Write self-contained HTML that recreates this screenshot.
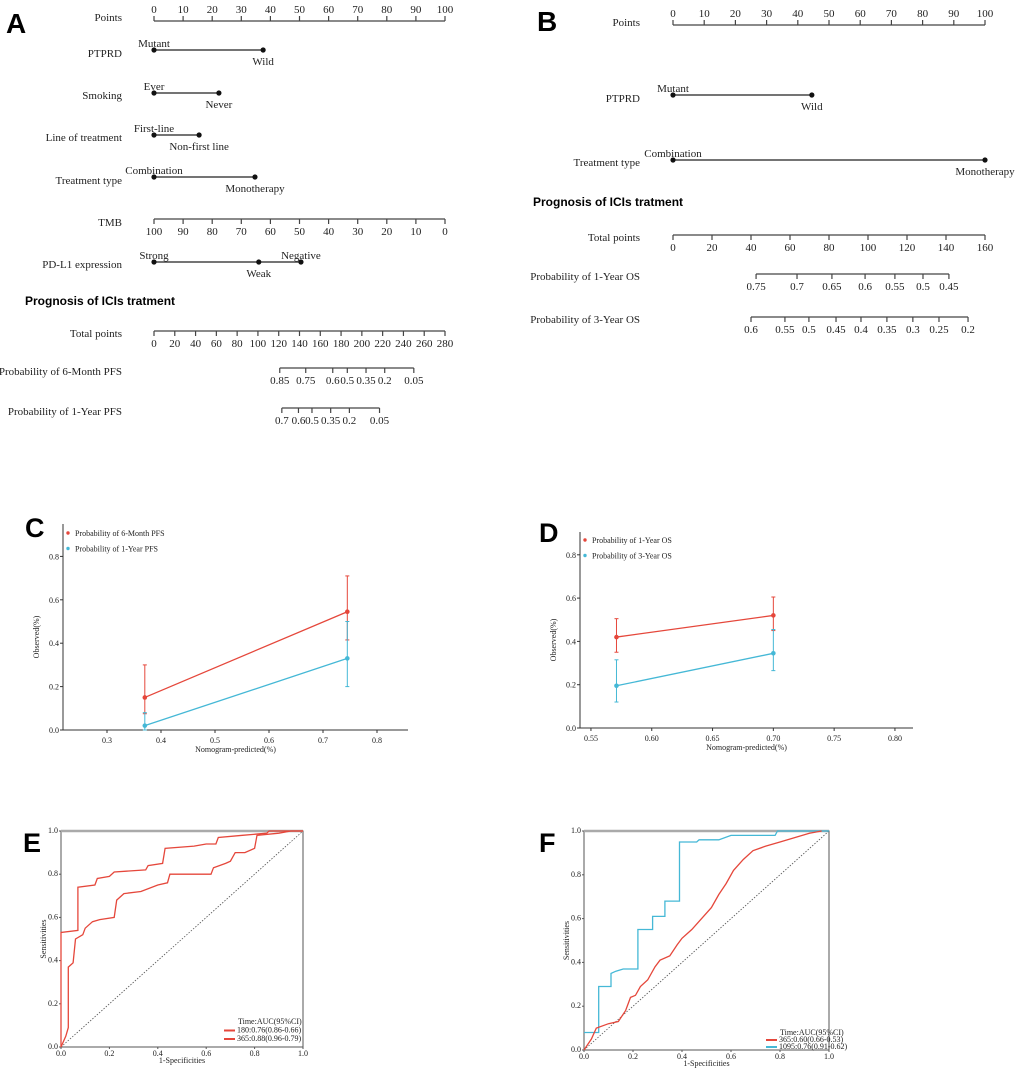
<!DOCTYPE html>
<html><head><meta charset="utf-8"><style>
html,body{margin:0;padding:0;background:#fff;}
svg{display:block;}
.t{font-family:"Liberation Serif",serif;font-size:11px;fill:#222;}
.s{font-family:"Liberation Serif",serif;font-size:8px;fill:#222;}
.b{font-family:"Liberation Sans",sans-serif;font-weight:bold;fill:#000;}
</style></head><body>
<svg id="fig" width="1020" height="1071" viewBox="0 0 1020 1071" xmlns="http://www.w3.org/2000/svg">
<text class="b" x="6" y="33" font-size="28">A</text>
<text class="b" x="537" y="31" font-size="28">B</text>
<text class="b" x="25" y="537" font-size="27">C</text>
<text class="b" x="539" y="542" font-size="27">D</text>
<text class="b" x="23" y="852" font-size="27">E</text>
<text class="b" x="539" y="852" font-size="27">F</text>
<g id="gA"></g>
<g id="gB"></g>
<g id="gC"></g>
<g id="gD"></g>
<g id="gE"></g>
<g id="gF"></g>
</svg>
<script>
// ---------- data ----------
var pointTicks=[0,10,20,30,40,50,60,70,80,90,100];
var tmbTicks=[100,90,80,70,60,50,40,30,20,10,0];
var totalTicksA=[0,20,40,60,80,100,120,140,160,180,200,220,240,260,280];
var totalTicksB=[0,20,40,60,80,100,120,140,160];
var pfs6Labels=["0.85","0.75","0.6","0.5","0.35","0.2","0.05"];
var pfs6Points=[121,146,172,186,204,222,250];
var pfs1Labels=["0.7","0.6","0.5","0.35","0.2","0.05"];
var pfs1Points=[123,139,152,170,188,217];
var os1Labels=["0.75","0.7","0.65","0.6","0.55","0.5","0.45"];
var os1Points=[42.6,63.6,81.5,98.5,113.8,128.2,141.5];
var os3Labels=["0.6","0.55","0.5","0.45","0.4","0.35","0.3","0.25","0.2"];
var os3Points=[40,57.4,69.7,83.6,96.4,109.7,123,136.4,151.3];
var ptprdA=[["Mutant",0],["Wild",37.5]];
var smokingA=[["Ever",0],["Never",22.3]];
var lineA=[["First-line",0],["Non-first line",15.5]];
var treatA=[["Combination",0],["Monotherapy",34.7]];
var pdl1A=[["Strong",0],["Weak",36],["Negative",50.5]];
var ptprdB=[["Mutant",0],["Wild",44.5]];
var treatB=[["Combination",0],["Monotherapy",100]];

var calCx=[0.37,0.745];
var calC6=[0.15,0.545], calC6lo=[0.075,0.415], calC6hi=[0.30,0.71];
var calC1=[0.02,0.33], calC1lo=[0.0,0.20], calC1hi=[0.08,0.50];
var calDx=[0.571,0.70];
var calD1=[0.42,0.52], calD1lo=[0.35,0.45], calD1hi=[0.505,0.605];
var calD3=[0.195,0.345], calD3lo=[0.12,0.265], calD3hi=[0.315,0.455];

var rocE1x=[0,0,0.07,0.07,0.14,0.15,0.2,0.22,0.35,0.36,0.42,0.43,0.55,0.6,0.64,0.65,0.75,0.85,0.86,1];
var rocE1y=[0,0.53,0.54,0.74,0.75,0.78,0.79,0.81,0.82,0.84,0.85,0.92,0.93,0.94,0.94,0.97,0.98,0.99,1,1];
var rocE2x=[0,0.02,0.03,0.03,0.05,0.06,0.09,0.1,0.13,0.16,0.22,0.23,0.26,0.33,0.4,0.44,0.45,0.62,0.63,0.68,0.7,0.72,0.76,0.8,0.81,0.9,0.95,1];
var rocE2y=[0,0.05,0.09,0.37,0.39,0.5,0.52,0.55,0.58,0.59,0.6,0.68,0.71,0.72,0.75,0.76,0.8,0.8,0.83,0.85,0.86,0.9,0.9,0.92,0.98,0.99,1,1];
var rocFbx=[0,0.06,0.06,0.11,0.11,0.13,0.16,0.22,0.22,0.28,0.28,0.33,0.33,0.39,0.39,0.46,0.47,0.55,0.6,0.78,0.79,1];
var rocFby=[0.08,0.08,0.29,0.29,0.35,0.36,0.37,0.37,0.55,0.55,0.61,0.61,0.68,0.68,0.95,0.95,0.96,0.96,0.98,0.98,1,1];
var rocFrx=[0,0.03,0.05,0.1,0.14,0.17,0.19,0.21,0.23,0.26,0.29,0.31,0.35,0.38,0.4,0.44,0.48,0.52,0.55,0.58,0.61,0.65,0.69,0.74,0.8,0.86,0.92,0.97];
var rocFry=[0,0.05,0.1,0.12,0.13,0.18,0.24,0.25,0.29,0.32,0.38,0.41,0.43,0.48,0.51,0.55,0.6,0.65,0.71,0.76,0.82,0.87,0.91,0.93,0.95,0.97,0.99,1];
var rocTicks=[0,0.2,0.4,0.6,0.8,1.0];

// ---------- helpers ----------
var NS="http://www.w3.org/2000/svg";
function el(parent,tag,attrs,txt){var e=document.createElementNS(NS,tag);for(var k in attrs)e.setAttribute(k,attrs[k]);if(txt!=null)e.textContent=txt;parent.appendChild(e);return e;}
function txt(p,x,y,s,cls,anchor,fill){var t=el(p,'text',{x:x,y:y,'class':cls||'t','text-anchor':anchor||'middle'},s);if(fill)t.setAttribute('fill',fill);return t;}

function nomAxis(g,sc,vals,labels,y,up,name){
  var a=el(g,'g',{});
  
  
  var xs=vals.map(sc);
  el(a,'line',{x1:Math.min.apply(null,xs),x2:Math.max.apply(null,xs),y1:y,y2:y,stroke:'#444','stroke-width':1.2});
  vals.forEach(function(v,i){
    var x=sc(v);
    el(a,'line',{x1:x,x2:x,y1:y,y2:up?y-5:y+5,stroke:'#444','stroke-width':1.2});
    txt(a,x,up?y-8:y+16,labels[i]);
  });
}
function nomVar(g,sc,levels,y,name,above){
  var a=el(g,'g',{});
  
  
  var xs=levels.map(function(l){return sc(l[1]);});
  el(a,'line',{x1:Math.min.apply(null,xs),x2:Math.max.apply(null,xs),y1:y,y2:y,stroke:'#222','stroke-width':1.2});
  levels.forEach(function(l,i){
    var x=sc(l[1]);
    el(a,'circle',{cx:x,cy:y,r:2.6,fill:'#111'});
    var ab=above[i];
    txt(a,x,ab?y-3:y+15,l[0]);
  });
}
function rowLabel(g,x,y,s){txt(g,x,y,s,'t','end');}

// ---------- Panel A ----------
(function(){
  var g=document.getElementById('gA');
  var pts=function(v){return 154+v*2.91;};
  var tot=function(v){return 154+v*291/280;};
  var tmb=function(v){return 154+(100-v)*2.91;};
  rowLabel(g,122,21,'Points'); nomAxis(g,pts,pointTicks,pointTicks,21,true,'points-axis-a');
  rowLabel(g,122,57,'PTPRD'); nomVar(g,pts,ptprdA,50,'ptprd-a',[1,0]);
  rowLabel(g,122,99,'Smoking'); nomVar(g,pts,smokingA,93,'smoking-a',[1,0]);
  rowLabel(g,122,141,'Line of treatment'); nomVar(g,pts,lineA,135,'line-of-treatment-a',[1,0]);
  rowLabel(g,122,184,'Treatment type'); nomVar(g,pts,treatA,177,'treatment-type-a',[1,0]);
  rowLabel(g,122,226,'TMB'); nomAxis(g,tmb,tmbTicks,tmbTicks,219,false,'tmb-axis-a');
  rowLabel(g,122,268,'PD-L1 expression'); nomVar(g,pts,pdl1A,262,'pd-l1-a',[1,0,1]);
  var h=txt(g,25,305,'Prognosis of ICIs tratment','b','start'); h.setAttribute('font-size','12');
  rowLabel(g,122,337,'Total points'); nomAxis(g,tot,totalTicksA,totalTicksA,331,false,'total-points-a');
  rowLabel(g,122,375,'Probability of 6-Month PFS'); nomAxis(g,tot,pfs6Points,pfs6Labels,368,false,'pfs-6-month-axis');
  rowLabel(g,122,415,'Probability of 1-Year PFS'); nomAxis(g,tot,pfs1Points,pfs1Labels,408,false,'pfs-1-year-axis');
})();

// ---------- Panel B ----------
(function(){
  var g=document.getElementById('gB');
  var pts=function(v){return 673+v*3.12;};
  var tot=function(v){return 673+v*312/160;};
  rowLabel(g,640,26,'Points'); nomAxis(g,pts,pointTicks,pointTicks,25,true,'points-axis-b');
  rowLabel(g,640,102,'PTPRD'); nomVar(g,pts,ptprdB,95,'ptprd-b',[1,0]);
  rowLabel(g,640,166,'Treatment type'); nomVar(g,pts,treatB,160,'treatment-type-b',[1,0]);
  var h=txt(g,533,206,'Prognosis of ICIs tratment','b','start'); h.setAttribute('font-size','12');
  rowLabel(g,640,241,'Total points'); nomAxis(g,tot,totalTicksB,totalTicksB,235,false,'total-points-b');
  rowLabel(g,640,280,'Probability of 1-Year OS'); nomAxis(g,tot,os1Points,os1Labels,274,false,'os-1-year-axis');
  rowLabel(g,640,323,'Probability of 3-Year OS'); nomAxis(g,tot,os3Points,os3Labels,317,false,'os-3-year-axis');
})();

// ---------- Calibration ----------
var RED='#e5473b', BLUE='#45b8d6';
function calPanel(g,ax,xTicks,xLabels,series,legend){
  var X=function(v){return ax.x0+(v-ax.vx0)*ax.kx;};
  var Y=function(v){return ax.y0-v*ax.ky;};
  el(g,'line',{x1:ax.x0,x2:ax.x0,y1:ax.ytop,y2:ax.y0,stroke:'#333','stroke-width':1});
  el(g,'line',{x1:ax.x0,x2:ax.xend,y1:ax.y0,y2:ax.y0,stroke:'#333','stroke-width':1});
  [0,0.2,0.4,0.6,0.8].forEach(function(v){
    el(g,'line',{x1:ax.x0-3,x2:ax.x0,y1:Y(v),y2:Y(v),stroke:'#333'});
    txt(g,ax.x0-4,Y(v)+3,v.toFixed(1),'s','end');
  });
  xTicks.forEach(function(v,i){
    el(g,'line',{x1:X(v),x2:X(v),y1:ax.y0,y2:ax.y0+3,stroke:'#333'});
    txt(g,X(v),ax.y0+13,xLabels[i],'s');
  });
  var yl=txt(g,0,0,'Observed(%)','s');
  yl.setAttribute('transform','translate('+(ax.x0-24)+','+((ax.ytop+ax.y0)/2+10)+') rotate(-90)');
  txt(g,(ax.x0+ax.xend)/2,ax.y0+22,'Nomogram-predicted(%)','s');
  series.forEach(function(s){
    var sg=el(g,'g',{});
    
    
    var d='';
    s.x.forEach(function(xv,i){d+=(i?'L':'M')+X(xv)+','+Y(s.y[i]);});
    el(sg,'path',{d:d,fill:'none',stroke:s.c,'stroke-width':1.3});
    s.x.forEach(function(xv,i){
      var x=X(xv);
      el(sg,'line',{x1:x,x2:x,y1:Y(s.lo[i]),y2:Y(s.hi[i]),stroke:s.c,'stroke-width':1});
      el(sg,'line',{x1:x-2,x2:x+2,y1:Y(s.lo[i]),y2:Y(s.lo[i]),stroke:s.c});
      el(sg,'line',{x1:x-2,x2:x+2,y1:Y(s.hi[i]),y2:Y(s.hi[i]),stroke:s.c});
      el(sg,'circle',{cx:x,cy:Y(s.y[i]),r:2.3,fill:s.c});
    });
  });
  legend.forEach(function(l,i){
    var lg=el(g,'g',{});
    
    
    el(lg,'circle',{cx:ax.x0+5,cy:ax.leg+i*15.5,r:1.7,fill:l.c});
    var t=txt(lg,ax.x0+12,ax.leg+i*15.5+3,l.t,'s','start',l.c);
    t.setAttribute('font-size','9');
  });
}
calPanel(document.getElementById('gC'),
  {x0:63,xend:408,vx0:0.2185,kx:540,y0:730,ky:217,ytop:524,leg:533},
  [0.3,0.4,0.5,0.6,0.7,0.8],["0.3","0.4","0.5","0.6","0.7","0.8"],
  [{name:'series-6-month-pfs',x:calCx,y:calC6,lo:calC6lo,hi:calC6hi,c:RED},
   {name:'series-1-year-pfs',x:calCx,y:calC1,lo:calC1lo,hi:calC1hi,c:BLUE}],
  [{t:'Probability of 6-Month PFS',c:RED},{t:'Probability of 1-Year PFS',c:BLUE}]);
calPanel(document.getElementById('gD'),
  {x0:580,xend:913,vx0:0.541,kx:1216,y0:728,ky:216.5,ytop:532,leg:540},
  [0.55,0.60,0.65,0.70,0.75,0.80],["0.55","0.60","0.65","0.70","0.75","0.80"],
  [{name:'series-1-year-os',x:calDx,y:calD1,lo:calD1lo,hi:calD1hi,c:RED},
   {name:'series-3-year-os',x:calDx,y:calD3,lo:calD3lo,hi:calD3hi,c:BLUE}],
  [{t:'Probability of 1-Year OS',c:RED},{t:'Probability of 3-Year OS',c:BLUE}]);

// ---------- ROC ----------
function rocPanel(g,ax,curves,legTitle,legend){
  var X=function(v){return ax.x0+v*(ax.x1-ax.x0);};
  var Y=function(v){return ax.y0-v*(ax.y0-ax.y1);};
  el(g,'rect',{x:X(0),y:Y(1),width:X(1)-X(0),height:Y(0)-Y(1),fill:'none',stroke:'#555','stroke-width':1});
  el(g,'line',{x1:X(0),x2:X(1),y1:Y(1),y2:Y(1),stroke:'#aaa','stroke-width':2.5});
  el(g,'line',{x1:X(0),x2:X(1),y1:Y(0),y2:Y(1),stroke:'#555','stroke-width':0.8,'stroke-dasharray':'1.5,1.5'});
  rocTicks.forEach(function(v){
    el(g,'line',{x1:X(0)-2,x2:X(0),y1:Y(v),y2:Y(v),stroke:'#555'});
    var t=txt(g,X(0)-3,Y(v)+2,v.toFixed(1),'s','end'); t.setAttribute('font-size','6');
    el(g,'line',{x1:X(v),x2:X(v),y1:Y(0),y2:Y(0)+2,stroke:'#555'});
    var t2=txt(g,X(v),Y(0)+9,v.toFixed(1),'s'); t2.setAttribute('font-size','6');
  });
  var yl=txt(g,0,0,'Sensitivities','s'); yl.setAttribute('font-size','5');
  yl.setAttribute('transform','translate('+(X(0)-15)+','+((Y(0)+Y(1))/2)+') rotate(-90)');
  var xl=txt(g,(X(0)+X(1))/2,Y(0)+16,'1-Specificities','s'); xl.setAttribute('font-size','5');
  curves.forEach(function(c){
    var d='';
    c.x.forEach(function(xv,i){d+=(i?'L':'M')+X(xv).toFixed(1)+','+Y(c.y[i]).toFixed(1);});
    var p=el(g,'path',{d:d,fill:'none',stroke:c.c,'stroke-width':1.3});
    
    
  });
  var lt=txt(g,ax.lx+14,ax.ly,legTitle,'s','start'); lt.setAttribute('font-size',ax.lf);
  legend.forEach(function(l,i){
    var lg=el(g,'g',{});
    
    
    var yy=ax.ly+ax.lstep*(i+1);
    el(lg,'line',{x1:ax.lx,x2:ax.lx+11,y1:yy-2,y2:yy-2,stroke:l.c,'stroke-width':2});
    var t=txt(lg,ax.lx+13,yy,l.t,'s','start'); t.setAttribute('font-size',ax.lf);
  });
}
rocPanel(document.getElementById('gE'),{x0:61,x1:303,y0:1047,y1:831,lx:224,ly:1024,lstep:8.5,lf:'7.5'},
  [{name:'roc-180-day',x:rocE1x,y:rocE1y,c:RED},{name:'roc-365-day',x:rocE2x,y:rocE2y,c:RED}],
  'Time:AUC(95%CI)',[{t:'180:0.76(0.86-0.66)',c:RED},{t:'365:0.88(0.96-0.79)',c:RED}]);
rocPanel(document.getElementById('gF'),{x0:584,x1:829,y0:1050,y1:831,lx:766,ly:1035,lstep:7,lf:'5'},
  [{name:'roc-1095-day',x:rocFbx,y:rocFby,c:BLUE},{name:'roc-365-day-f',x:rocFrx,y:rocFry,c:RED}],
  'Time:AUC(95%CI)',[{t:'365:0.60(0.66-0.53)',c:RED},{t:'1095:0.76(0.91-0.62)',c:BLUE}]);
</script>
</body></html>
